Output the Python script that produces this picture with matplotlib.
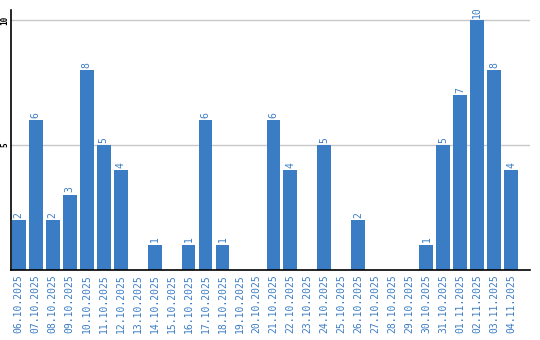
import matplotlib.pyplot as plt

dates = ['06.10.2025', '07.10.2025', '08.10.2025', '09.10.2025', '10.10.2025',
         '11.10.2025', '12.10.2025', '13.10.2025', '14.10.2025', '15.10.2025',
         '16.10.2025', '17.10.2025', '18.10.2025', '19.10.2025', '20.10.2025',
         '21.10.2025', '22.10.2025', '23.10.2025', '24.10.2025', '25.10.2025',
         '26.10.2025', '27.10.2025', '28.10.2025', '29.10.2025', '30.10.2025',
         '31.10.2025', '01.11.2025', '02.11.2025', '03.11.2025', '04.11.2025']
counts = [2, 6, 2, 3, 8, 5, 4, 0, 1, 0,
          1, 6, 1, 0, 0, 6, 4, 0, 5, 0,
          2, 0, 0, 0, 1, 5, 7, 10, 8, 4]

blue = '#3b7dc4'
mono = 'DejaVu Sans Mono'

fig = plt.figure(figsize=(5.4, 3.4), dpi=100)
ax = fig.add_axes([11 / 540, 70 / 340, 519 / 540, 260 / 340])

x = range(len(dates))
bars = ax.bar(x, counts, width=0.82, color=blue, zorder=2)
for xi, v in zip(x, counts):
    if v > 0:
        ax.text(xi, v + 0.1, str(v), rotation=90, ha='center', va='bottom',
                color=blue, fontsize=7, family=mono)

ax.set_xlim(-0.45, 30.1)
ax.set_ylim(0, 10.4)
ax.set_yticks([5, 10])
ax.set_yticklabels(['5', '10'], rotation=90, va='center', fontsize=5.5,
                   family=mono, fontweight='bold')
ax.set_xticks(list(x))
ax.set_xticklabels(dates, rotation=90, fontsize=7, family=mono, color=blue)
ax.tick_params(axis='y', length=0, pad=1)
ax.tick_params(axis='x', length=0, pad=3)
ax.grid(axis='y', color='#c8c8c8', linewidth=1, zorder=0)
for s in ['top', 'right']:
    ax.spines[s].set_visible(False)
ax.spines['left'].set_linewidth(1.2)
ax.spines['bottom'].set_linewidth(1.2)

fig.savefig('out.png', dpi=100)
